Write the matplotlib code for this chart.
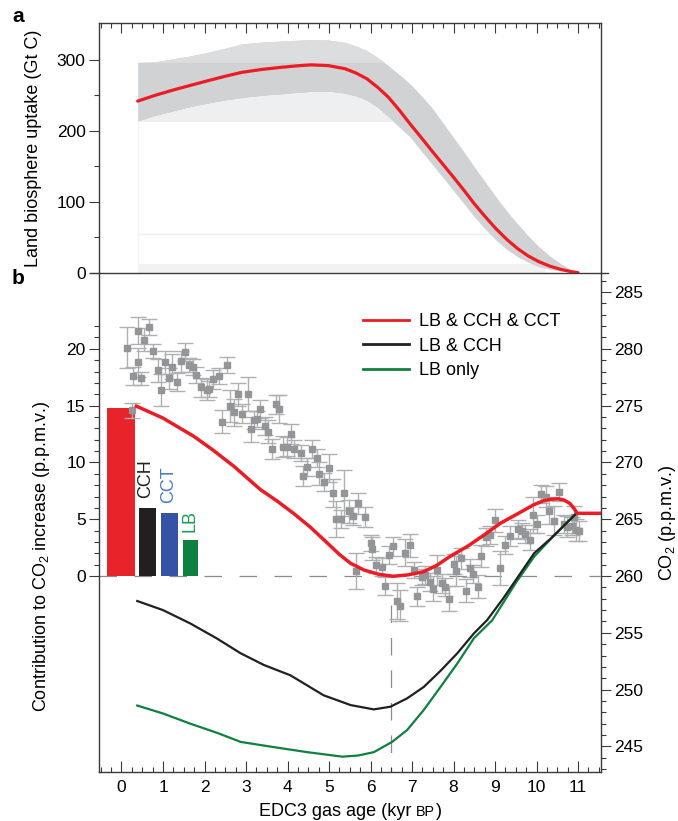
import numpy as np
import matplotlib
matplotlib.use("Agg")
import matplotlib.pyplot as plt
from matplotlib.ticker import MultipleLocator, FixedLocator
from matplotlib.lines import Line2D

plt.rcParams['font.family'] = ['Liberation Sans', 'DejaVu Sans']
plt.rcParams['mathtext.fontset'] = 'custom'
plt.rcParams['mathtext.rm'] = 'Liberation Sans'
plt.rcParams['mathtext.it'] = 'Liberation Sans:italic'
plt.rcParams['mathtext.bf'] = 'Liberation Sans:bold'

# ---------------- data: panel a ----------------
age_a = [0.39, 0.83, 1.24, 1.65, 2.07, 2.5, 2.9, 3.37, 3.84, 4.2, 4.56, 4.98, 5.39, 5.65,
         5.91, 6.17, 6.43, 6.69, 6.95, 7.21, 7.47, 7.73, 7.99, 8.25, 8.5, 8.76, 9.02,
         9.28, 9.54, 9.8, 10.06, 10.32, 10.58, 10.8, 11.0]
uptake_upper = [296, 297, 301, 305, 310, 316, 322, 324.5, 326, 327, 328, 327.5, 324, 319,
                312.6, 303, 291.5, 279, 266, 250, 233, 212, 191, 170, 149, 128, 107,
                87, 69, 52, 36.5, 23.5, 13, 5.5, 0]
uptake_lower = [213, 221, 227, 233, 238, 242.5, 246, 249, 251, 253, 254.5, 255, 252, 248,
                242, 232, 219, 205, 191, 172, 153.5, 135, 116, 97, 78.6, 61.5, 46,
                33, 22.5, 14.5, 8.4, 4.8, 2.8, 1.2, 0]
uptake_mean = [241.5, 250, 257, 263.5, 270, 276.5, 282, 286, 289, 291, 292.5, 291.5, 287,
               281, 273, 261, 247, 229, 209.6, 191, 172, 153.5, 135, 116, 97, 79, 62,
               47, 34, 23.5, 15.4, 9.2, 4.7, 1.9, 0]

# ---------------- data: panel b ----------------
age_red = [0.36, 1.0, 1.74, 2.2, 2.71, 3.35, 3.75, 4.15, 4.55, 4.96, 5.25, 5.52, 5.84,
           6.2, 6.55, 6.9, 7.28, 7.6, 7.93, 8.33, 8.73, 9.13, 9.53, 9.93, 10.15, 10.34,
           10.52, 10.66, 10.8, 10.9, 10.98, 11.54]
contrib_red = [14.95, 13.9, 12.3, 11.1, 9.65, 7.6, 6.6, 5.5, 4.3, 2.9, 1.9, 1.12, 0.53,
               0.15, -0.02, 0.1, 0.38, 0.95, 1.76, 2.6, 3.6, 4.65, 5.45, 6.27, 6.6, 6.75,
               6.8, 6.69, 6.4, 5.96, 5.52, 5.52]

age_black = [0.38, 1.0, 1.66, 2.3, 2.87, 3.43, 4.07, 4.87, 5.52, 6.08, 6.48, 6.88, 7.28,
             7.69, 8.09, 8.49, 8.81, 9.2, 9.5, 9.94, 10.34, 10.96]
contrib_black = [-2.2, -3.0, -4.18, -5.5, -6.8, -7.83, -8.74, -10.5, -11.36, -11.74,
                 -11.5, -10.77, -9.77, -8.33, -6.8, -5.05, -3.87, -1.95, -0.35, 2.0,
                 3.3, 5.52]

age_green = [0.38, 1.0, 1.66, 2.3, 2.87, 3.67, 4.47, 5.32, 5.7, 6.08, 6.52, 6.88, 7.28,
             7.69, 8.09, 8.49, 8.93, 9.5, 9.94, 10.34, 10.96]
contrib_green = [-11.4, -12.1, -13.0, -13.8, -14.6, -15.06, -15.5, -15.9, -15.8, -15.5,
                 -14.6, -13.56, -11.8, -9.74, -7.7, -5.48, -3.9, -0.6, 1.7, 3.25, 5.52]

bar_labels = ["LB & CCH & CCT", "CCH", "CCT", "LB"]
bar_heights = [14.8, 6.0, 5.56, 3.18]

# ice-core CO2 (ppmv)
age_pts = [0.14, 0.26, 0.28, 0.39, 0.39, 0.47, 0.55, 0.66, 0.75, 0.87, 0.95, 1.04, 1.15,
           1.22, 1.33, 1.44, 1.54, 1.62, 1.73, 1.80, 1.92, 2.05, 2.12, 2.21, 2.34, 2.43,
           2.53, 2.61, 2.72, 2.80, 2.91, 3.05, 3.11, 3.20, 3.27, 3.33, 3.45, 3.53, 3.62,
           3.72, 3.79, 3.90, 3.99, 4.09, 4.15, 4.33, 4.38, 4.47, 4.58, 4.70, 4.76, 4.88,
           5.00, 5.10, 5.16, 5.28, 5.37, 5.49, 5.57, 5.66, 5.70, 5.86, 6.00, 6.04, 6.14,
           6.27, 6.36, 6.44, 6.55, 6.64, 6.71, 6.84, 6.95, 7.04, 7.12, 7.23, 7.31, 7.43,
           7.51, 7.61, 7.71, 7.79, 7.90, 8.01, 8.06, 8.19, 8.29, 8.39, 8.47, 8.59, 8.67,
           8.77, 8.87, 8.99, 9.13, 9.25, 9.35, 9.55, 9.64, 9.73, 9.83, 9.92, 10.00, 10.11,
           10.22, 10.31, 10.43, 10.54, 10.66, 10.74, 10.86, 10.90, 10.94, 11.02]
co2_pts = [280.1, 274.6, 277.6, 281.6, 278.8, 277.4, 280.8, 281.9, 279.8, 278.1, 276.4,
           278.8, 277.4, 278.4, 277.1, 278.9, 279.7, 278.6, 278.4, 277.7, 276.6, 276.4,
           276.5, 277.3, 277.6, 273.6, 278.6, 275.0, 274.4, 276.0, 274.3, 276.0, 272.9,
           273.7, 273.8, 274.7, 273.2, 272.7, 271.2, 275.1, 274.7, 271.4, 271.4, 272.5,
           271.2, 270.8, 268.8, 269.6, 271.2, 270.4, 269.0, 268.3, 269.5, 267.3, 265.0,
           265.0, 267.3, 265.7, 265.3, 260.44, 266.4, 265.2, 262.9, 262.4, 260.94, 260.8,
           259.15, 261.85, 262.6, 257.83, 257.4, 262.05, 262.7, 260.53, 258.2, 259.9,
           260.1, 259.45, 258.9, 260.53, 259.35, 259.06, 258.0, 261.06, 260.44, 261.56,
           258.7, 260.68, 260.15, 259.06, 261.76, 263.4, 263.6, 264.9, 260.68, 262.7,
           263.5, 264.16, 264.0, 263.7, 263.2, 265.4, 264.6, 267.2, 267.0, 265.75, 264.87,
           267.37, 264.6, 264.34, 264.4, 265.2, 264.05, 263.96]
co2_err = [1.8, 0.65, 0.8, 1.2, 1.3, 0.6, 1.0, 0.7, 0.6, 1.0, 1.4, 1.0, 0.9, 1.1, 0.8,
           0.9, 0.8, 0.6, 0.7, 0.7, 0.8, 0.9, 0.7, 0.8, 0.7, 1.0, 0.7, 1.4, 1.2, 1.0, 0.8,
           1.5, 1.1, 0.8, 0.7, 0.8, 0.8, 1.0, 0.9, 0.8, 1.2, 0.9, 0.8, 0.9, 0.8, 0.7, 0.9,
           0.8, 0.8, 0.8, 1.0, 0.8, 1.2, 1.2, 1.6, 0.8, 2.0, 1.0, 0.8, 1.6, 0.9, 0.9, 0.7,
           1.0, 0.7, 0.8, 0.8, 0.8, 0.8, 1.6, 1.4, 1.2, 1.0, 0.7, 0.8, 0.7, 0.8, 0.8, 1.1,
           1.3, 0.8, 0.8, 1.1, 0.9, 1.3, 0.9, 1.0, 0.8, 0.8, 1.0, 1.0, 0.8, 0.8, 1.0, 1.5,
           0.8, 0.9, 0.8, 0.7, 0.8, 0.9, 1.6, 0.8, 0.8, 0.9, 1.2, 1.3, 0.8, 0.8, 0.9, 0.8,
           1.0, 1.0, 0.9]

CO2_REF = 260.0          # CO2 level aligned with zero contribution
x_ticks = list(range(0, 12))

# ---------------- figure ----------------
W, H = 678, 821
fig = plt.figure(figsize=(W / 100, H / 100), dpi=100)

def fx(px):
    return px / W

def fy(py):
    return 1 - py / H

L, R = 99.5, 600.5
TOP_A, MID, BOT = 23.3, 272.7, 772.0
ax_a = fig.add_axes([fx(L), fy(MID), (R - L) / W, (MID - TOP_A) / H])
ax_b = fig.add_axes([fx(L), fy(BOT), (R - L) / W, (BOT - MID) / H])
ax_r = ax_b.twinx()

spine_c = '#3a3a3c'
tick_fs = 12.5
lab_fs = 13
xlim = (-0.53, 11.54)

# ---- panel a ----
ax_a.set_xlim(*xlim)
ax_a.set_ylim(0, 351)
ax_a.fill_between([0.39, 10.2], 0, 12, color='#f2f2f3', lw=0, zorder=0)
ax_a.plot([0.39, 9.0], [54, 54], color='#efeff0', lw=1, zorder=0)
ax_a.plot([0.39, 0.39], [0, 213], color='#f3f3f4', lw=1, zorder=0)
up = np.array(uptake_upper)
lo = np.array(uptake_lower)
ax_a.fill_between(age_a, lo, up, color='#d1d2d4', lw=0, zorder=1)
ax_a.fill_between(age_a, 296, up, where=up > 296, interpolate=True,
                  color='#dcdddf', lw=0, zorder=1.5)
ax_a.fill_between(age_a, 213, lo, where=lo > 213, interpolate=True,
                  color='#eeeff0', lw=0, zorder=1.5)
ax_a.plot(age_a, uptake_mean, color='#ec1c24', lw=2.3, zorder=3,
          solid_capstyle='round', solid_joinstyle='round')

ax_a.xaxis.set_major_locator(FixedLocator(x_ticks))
ax_a.xaxis.set_minor_locator(MultipleLocator(0.25))
ax_a.tick_params(axis='x', which='both', direction='in', top=True, bottom=False,
                 labeltop=False, labelbottom=False, color=spine_c, width=0.8)
ax_a.tick_params(axis='x', which='major', length=7)
ax_a.tick_params(axis='x', which='minor', length=3.5)
ax_a.yaxis.set_major_locator(FixedLocator([0, 100, 200, 300]))
ax_a.yaxis.set_minor_locator(FixedLocator([50, 150, 250]))
ax_a.tick_params(axis='y', which='both', direction='out', left=True, right=False,
                 labelsize=tick_fs, color=spine_c, width=0.8, pad=3)
ax_a.tick_params(axis='y', which='major', length=7)
ax_a.tick_params(axis='y', which='minor', length=3.5)
ax_a.spines['bottom'].set_visible(False)
for s in ['top', 'left', 'right']:
    ax_a.spines[s].set_color(spine_c)
    ax_a.spines[s].set_linewidth(1.0)
ax_a.set_ylabel('Land biosphere uptake (Gt C)', fontsize=lab_fs)
ax_a.yaxis.set_label_coords((42 - L) / (R - L), 0.5)

# ---- panel b ----
ylo, yhi = -17.25, 26.7
ax_b.set_xlim(*xlim)
ax_b.set_ylim(ylo, yhi)
ax_r.set_ylim(ylo + CO2_REF, yhi + CO2_REF)
ax_b.set_zorder(2)
ax_r.set_zorder(1)
ax_b.patch.set_visible(False)

ax_b.axhline(0, color='#8a8c8f', lw=0.9, dashes=(14, 14), zorder=1)
ax_b.plot([6.5, 6.5], [-2.55, ylo], color='#8a8c8f', lw=0.9, dashes=(14, 12), zorder=1)

bar_colors = ['#e8232a', '#231f20', '#3553a4', '#0e8140']
bar_x = [-0.015, 0.628, 1.157, 1.665]
bar_w = [0.66, 0.39, 0.39, 0.37]
ax_b.bar(bar_x, bar_heights, width=bar_w, color=bar_colors, zorder=2)
txt_cols = ['#231f20', '#4b7cc0', '#17a050']
txt_bottoms = [6.85, 6.4, 3.85]
txt_x = [0.575, 1.13, 1.66]
for lab, xx, yb, c in zip(bar_labels[1:], txt_x, txt_bottoms, txt_cols):
    ax_b.text(xx, yb, lab, rotation=90, ha='center', va='bottom', color=c,
              fontsize=lab_fs, zorder=5)

co2_rel = np.array(co2_pts) - CO2_REF
ax_b.errorbar(age_pts, co2_rel, yerr=co2_err, fmt='s', ms=5, mfc='#949598',
              mec='#949598', ecolor='#aeb0b2', elinewidth=1.0, capsize=5.5,
              capthick=1.0, zorder=3)

ax_b.plot(age_green, contrib_green, color='#0e8140', lw=1.6, zorder=4,
          solid_joinstyle='round')
ax_b.plot(age_black, contrib_black, color='#231f20', lw=1.6, zorder=4,
          solid_joinstyle='round')
ax_b.plot(age_red, contrib_red, color='#ec1c24', lw=2.5, zorder=4,
          solid_joinstyle='round')

ax_b.xaxis.set_major_locator(FixedLocator(x_ticks))
ax_b.xaxis.set_minor_locator(MultipleLocator(0.25))
ax_b.tick_params(axis='x', which='both', direction='in', top=False, bottom=True,
                 labelsize=tick_fs, color=spine_c, width=0.8, pad=6)
ax_b.tick_params(axis='x', which='major', length=8)
ax_b.tick_params(axis='x', which='minor', length=3.5)
ax_b.yaxis.set_major_locator(FixedLocator([0, 5, 10, 15, 20]))
ax_b.yaxis.set_minor_locator(FixedLocator(list(range(0, 23))))
ax_b.tick_params(axis='y', which='both', direction='out', left=True, right=False,
                 labelsize=tick_fs, color=spine_c, width=0.8, pad=3)
ax_b.tick_params(axis='y', which='major', length=7)
ax_b.tick_params(axis='y', which='minor', length=3.5)

ax_r.yaxis.set_major_locator(FixedLocator([245, 250, 255, 260, 265, 270, 275, 280, 285]))
ax_r.yaxis.set_minor_locator(FixedLocator(list(range(243, 287))))
ax_r.tick_params(axis='y', which='both', direction='out', right=True, left=False,
                 labelsize=tick_fs, color=spine_c, width=0.8, pad=3)
ax_r.tick_params(axis='y', which='major', length=7)
ax_r.tick_params(axis='y', which='minor', length=3.5)

for a in (ax_b, ax_r):
    a.spines['top'].set_visible(False)
    for s in ['left', 'right', 'bottom']:
        a.spines[s].set_color(spine_c)
        a.spines[s].set_linewidth(1.0)
ax_b.spines['right'].set_visible(False)
ax_r.spines['left'].set_visible(False)
ax_r.spines['bottom'].set_visible(False)

fig.add_artist(Line2D([fx(90), fx(608)], [fy(MID), fy(MID)], color=spine_c, lw=1.0))

# legend
handles = [Line2D([], [], color='#ec1c24', lw=2.0),
           Line2D([], [], color='#231f20', lw=2.0),
           Line2D([], [], color='#0e8140', lw=2.0)]
ax_b.legend(handles, ['LB & CCH & CCT', 'LB & CCH', 'LB only'], loc='upper left',
            bbox_to_anchor=((363 - L) / (R - L), (BOT - 313) / (BOT - MID)),
            frameon=False, fontsize=lab_fs, handlelength=2.55, handletextpad=0.55,
            labelspacing=0.42, borderpad=0, borderaxespad=0)

# axis labels
fig.text(fx(42), fy(556), 'Contribution to CO$_2$ increase (p.p.m.v.)', rotation=90,
         ha='center', va='center', fontsize=lab_fs)
fig.text(fx(667), fy(523), 'CO$_2$ (p.p.m.v.)', rotation=90, ha='center', va='center',
         fontsize=lab_fs)

# x label with small caps "BP"
base_y = fy(816)
t1 = fig.text(0, base_y, 'EDC3 gas age (kyr', fontsize=lab_fs, va='baseline', ha='left')
t2 = fig.text(0, base_y, 'BP', fontsize=lab_fs * 0.8, va='baseline', ha='left')
t3 = fig.text(0, base_y, ')', fontsize=lab_fs, va='baseline', ha='left')
fig.canvas.draw()
rend = fig.canvas.get_renderer()
w1 = t1.get_window_extent(rend).width
w2 = t2.get_window_extent(rend).width
w3 = t3.get_window_extent(rend).width
sp = lab_fs * 0.278 * 100 / 72
total = w1 + sp + w2 + w3 + 1
x0 = 350.5 - total / 2
t1.set_x(fx(x0))
t2.set_x(fx(x0 + w1 + sp))
t3.set_x(fx(x0 + w1 + sp + w2 + 1))

# panel letters
fig.text(fx(18), fy(17), 'a', fontsize=15, fontweight='bold', ha='center', va='center')
fig.text(fx(18), fy(279), 'b', fontsize=15, fontweight='bold', ha='center', va='center')

fig.savefig('out.png', dpi=100)
